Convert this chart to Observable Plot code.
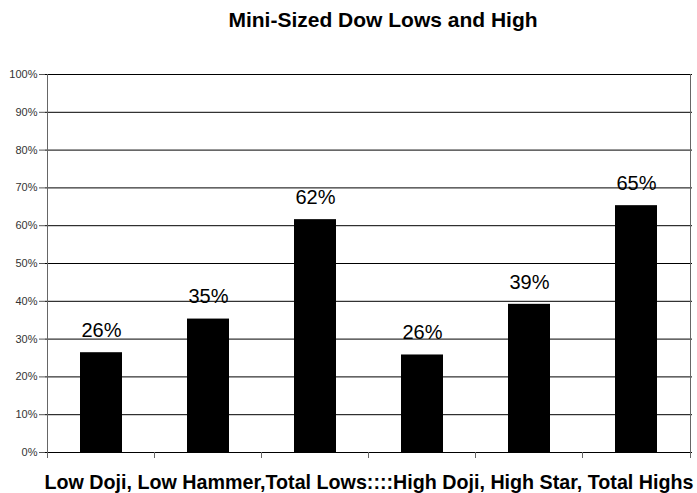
<!DOCTYPE html>
<html>
<head>
<meta charset="utf-8">
<script src="https://cdn.jsdelivr.net/npm/d3@7"></script>
<script src="https://cdn.jsdelivr.net/npm/@observablehq/plot@0.6"></script>
<style>
  html, body { margin: 0; padding: 0; background: #fff; }
  svg { display: block; }
</style>
</head>
<body>
<div id="chart"></div>
<script>
const categories = ["Low Doji", "Low Hammer", "Total Lows", "High Doji", "High Star", "Total Highs"];
const values = [0.264, 0.353, 0.616, 0.258, 0.392, 0.653];
const labels = ["26%", "35%", "62%", "26%", "39%", "65%"];
const yTicks = [0, 0.1, 0.2, 0.3, 0.4, 0.5, 0.6, 0.7, 0.8, 0.9, 1.0];
const title = "Mini-Sized Dow Lows and High";
const xTitle = "Low Doji, Low Hammer,Total Lows::::High Doji, High Star, Total Highs";

const data = categories.map((c, i) => ({category: c, value: values[i], label: labels[i]}));
const halfStep = 54;

const chart = Plot.plot({
  width: 697,
  height: 493,
  marginLeft: 45,
  marginRight: 5,
  marginTop: 74,
  marginBottom: 41,
  style: {fontFamily: "'Liberation Sans', Arial, sans-serif", background: "#fff"},
  x: {domain: categories, paddingInner: 0.61, paddingOuter: 0.305, axis: null},
  y: {domain: [0, 1], axis: null},
  marks: [
    Plot.ruleY(yTicks, {stroke: "#000", strokeWidth: 1}),
    Plot.axisY(yTicks, {tickSize: 6, tickPadding: 2, tickFormat: d3.format(".0%"), fontSize: 11, fill: "#333", stroke: "#555", label: null}),
    Plot.barY(data, {x: "category", y: "value", fill: "#000"}),
    Plot.ruleX([categories[0]], {dx: -halfStep, stroke: "#666", insetBottom: -6}),
    Plot.ruleX(categories.slice(1), {dx: -halfStep, y1: 0, y2: 0, insetBottom: -6, stroke: "#666"}),
    Plot.ruleX([categories[categories.length - 1]], {dx: halfStep, stroke: "#666", insetBottom: -6}),
    Plot.text(data, {x: "category", y: "value", text: "label", dy: -22, fontSize: 20, fill: "#000"}),
    Plot.text([title], {frameAnchor: "top", lineAnchor: "middle", dy: -54, dx: 14, fontSize: 21, fontWeight: "bold", fill: "#000"}),
    Plot.text([xTitle], {frameAnchor: "bottom", lineAnchor: "middle", dy: 30, fontSize: 19.7, fontWeight: "bold", fill: "#000"})
  ]
});
document.getElementById("chart").appendChild(chart);
</script>
</body>
</html>
